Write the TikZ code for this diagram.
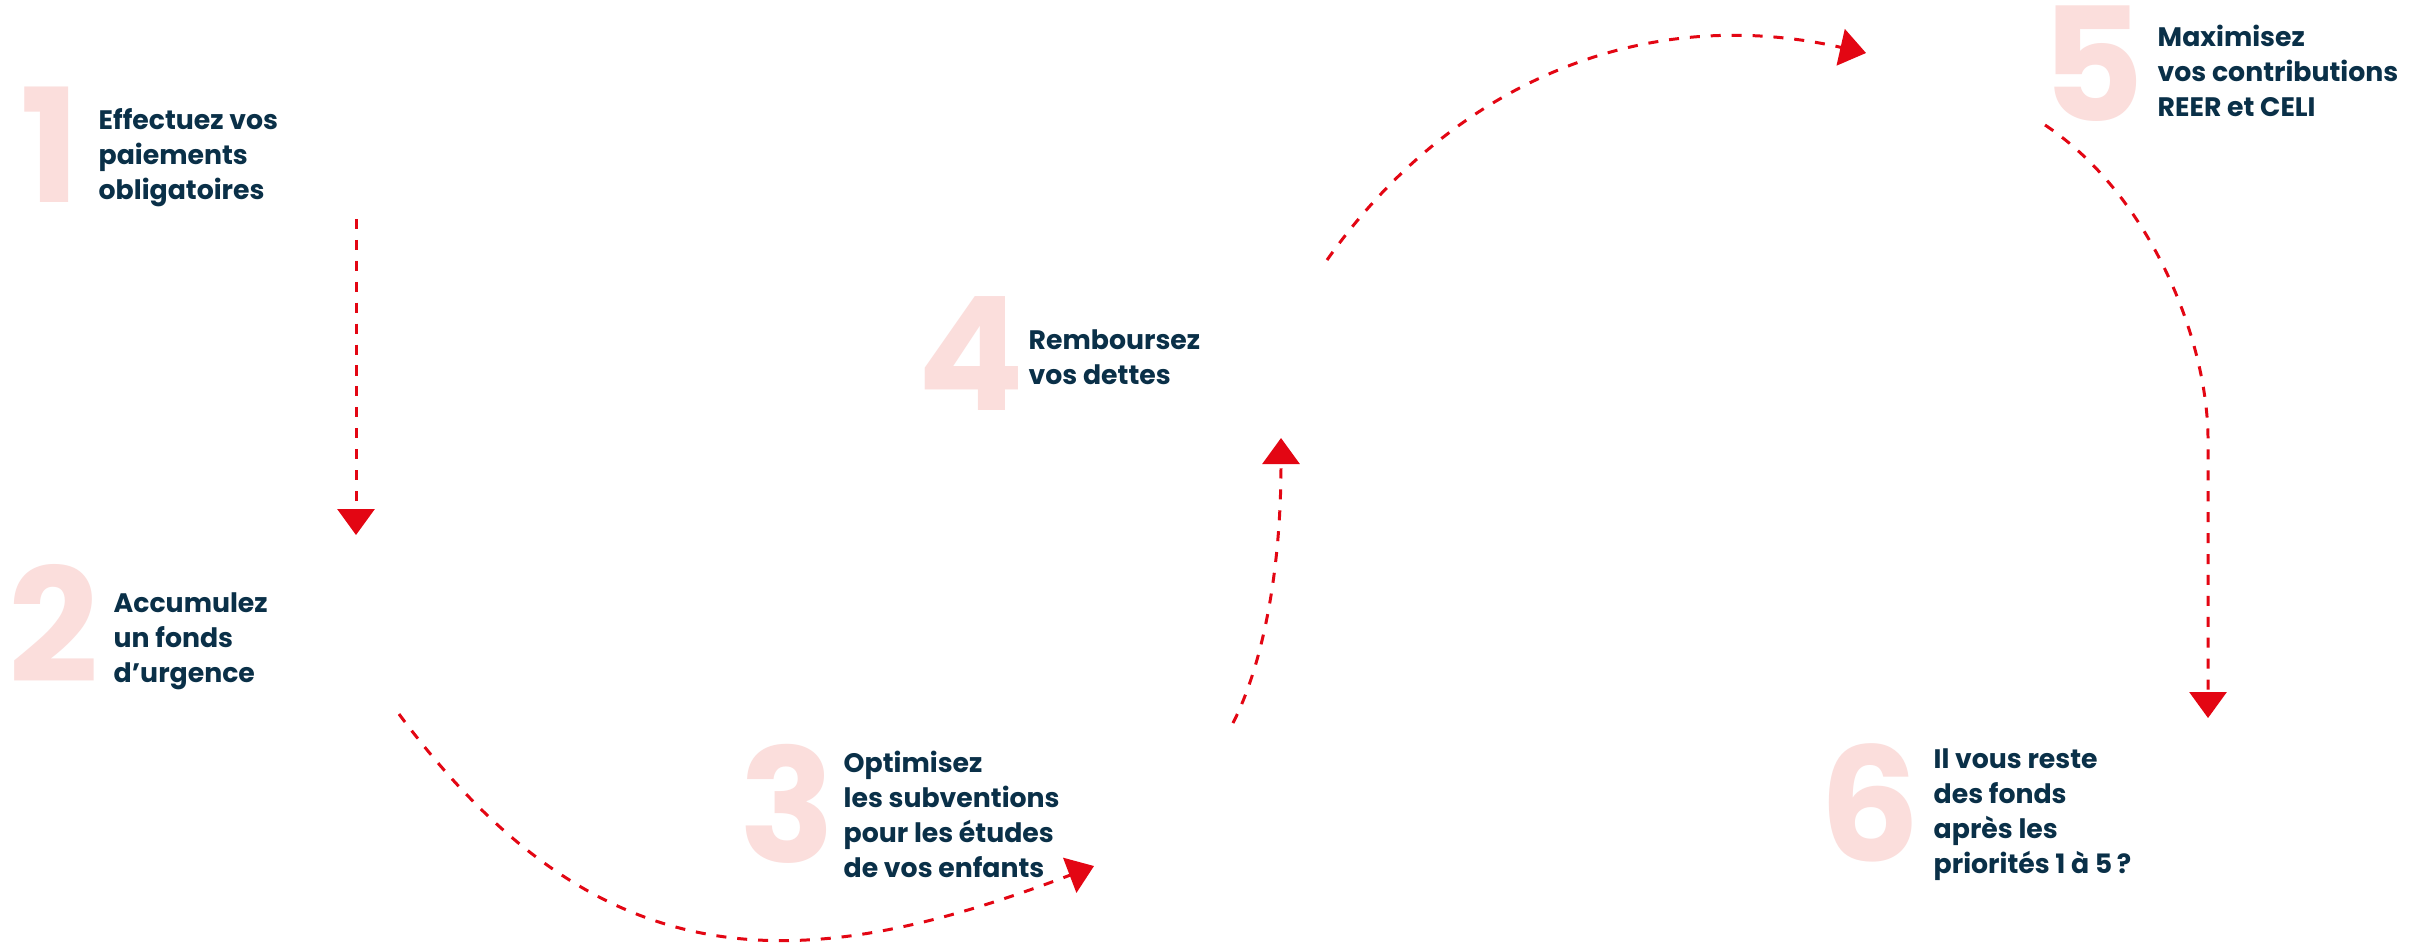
\documentclass[tikz,border=0pt]{standalone}
\usepackage{fontspec}
\setmainfont{Poppins}
\usetikzlibrary{arrows.meta}
\definecolor{stepnavy}{HTML}{0A3048}
\definecolor{steppink}{HTML}{FBDEDC}
\definecolor{arrowred}{HTML}{E30613}

\begin{document}
\begin{tikzpicture}[
  x=0.01cm,
  y=-0.01cm,
  bignum/.style={font=\fontsize{45}{45}\selectfont\bfseries,text=steppink,inner sep=0pt,anchor=south west},
  steptext/.style={font=\fontsize{7.6}{9.96}\selectfont\bfseries,text=stepnavy,align=left,inner sep=0pt,anchor=north west},
  flowarrow/.style={draw=arrowred,line width=0.85pt,dash pattern=on 2.85pt off 3.1pt,-{Triangle[length=2.6mm,width=3.7mm]}}
]
  % Page frame, in pixel units.
  \fill[white] (0,0) rectangle (2434,944);
  \useasboundingbox (0,0) rectangle (2434,944);

  % Big pale step numbers.
  \node[bignum] (num1) at (20,203) {1};
  \node[bignum] (num2) at (8,683) {2};
  \node[bignum] (num3) at (739,864) {3};
  \node[bignum] (num4) at (917,411) {4};
  \node[bignum] (num5) at (2041,122) {5};
  \node[bignum] (num6) at (1819,863) {6};

  % Step texts.
  \node[steptext] (txt1) at (98,108) {Effectuez vos\\paiements\\obligatoires};
  \node[steptext] (txt2) at (113,592) {Accumulez\\un fonds\\d’urgence};
  \node[steptext] (txt3) at (843,750) {Optimisez\\les subventions\\pour les études\\de vos enfants};
  \node[steptext] (txt4) at (1028,329) {Remboursez\\vos dettes};
  \node[steptext] (txt5) at (2157,24) {Maximisez\\vos contributions\\REER et CELI};
  \node[steptext] (txt6) at (1933,748) {Il vous reste\\des fonds\\après les\\priorités 1 à 5\,?};

  % Arrow ends.
  \coordinate (out1) at (356,219);
  \coordinate (in2) at (356,535);
  \coordinate (out2) at (399,714);
  \coordinate (in3) at (1094,866);
  \coordinate (out3) at (1233,723);
  \coordinate (in4) at (1281,438);
  \coordinate (out4) at (1327,260);
  \coordinate (in5) at (1866,53);
  \coordinate (out5) at (2045,125);
  \coordinate (in6) at (2208,718);

  % Dashed red path from one step to the next.
  \draw[flowarrow] (out1) -- (in2);
  \draw[flowarrow] (out2) .. controls (600,984) and (800,978) .. (in3);
  \draw[flowarrow] (out3) .. controls (1260,670) and (1281,580) .. (in4);
  \draw[flowarrow] (out4) .. controls (1450,86) and (1640,2) .. (in5);
  \draw[flowarrow] (out5) .. controls (2150,195) and (2208,340) .. (2208,440) -- (in6);
\end{tikzpicture}
\end{document}
